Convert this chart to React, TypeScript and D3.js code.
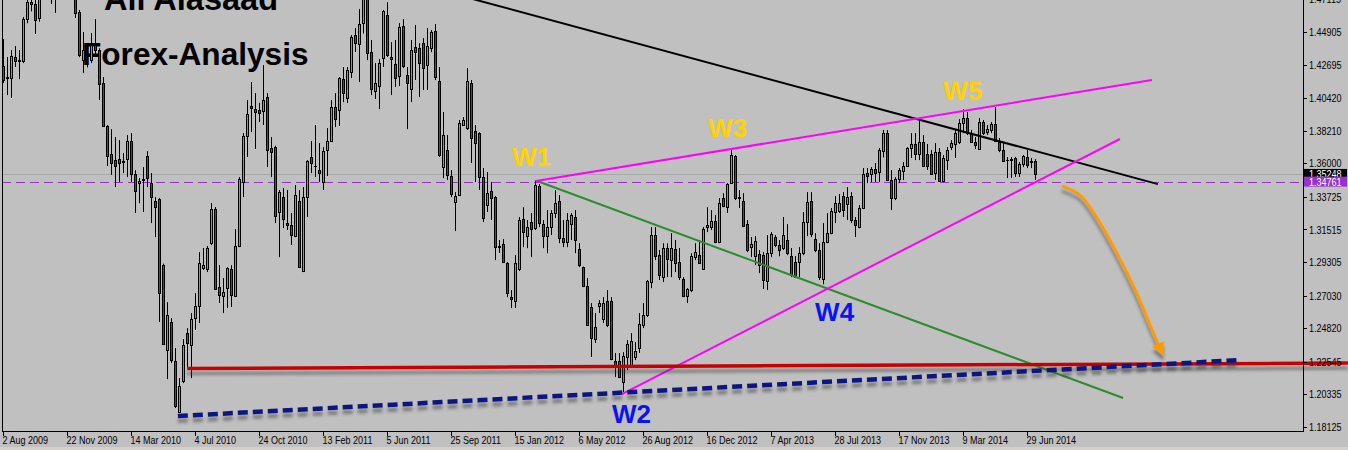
import React from "react";
import * as d3 from "d3";

// ---- Weekly EUR/USD candles, week of 2 Aug 2009 .. week of 13 Jul 2014 ----
const opens = [
1.4260,1.4180,1.4178,1.4321,1.4295,1.4293,1.4578,1.4693,1.4680,1.4585,
1.4720,1.4900,1.5010,1.4730,1.4930,1.4960,1.4900,1.5000,1.5020,1.4626,
1.4300,1.4340,1.4300,1.4402,1.4368,1.4144,1.3853,1.3663,1.3622,1.3629,
1.3615,1.3629,1.3751,1.3527,1.3470,1.3490,1.3649,1.3466,1.3344,1.3358,
1.2910,1.2334,1.2524,1.2259,1.1914,1.2124,1.2449,1.2368,1.2551,1.2632,
1.2890,1.2883,1.3059,1.3290,1.2761,1.2700,1.2754,1.2883,1.2700,1.3039,
1.3473,1.3785,1.3988,1.3968,1.3960,1.3955,1.4049,1.3704,1.3710,1.3270,
1.3371,1.3195,1.3182,1.3107,1.3344,1.2870,1.3371,1.3643,1.3585,1.3555,
1.3473,1.3690,1.3751,1.3982,1.3961,1.4171,1.4043,1.4219,1.4470,1.4409,
1.4551,1.4820,1.4355,1.4090,1.4124,1.4314,1.4605,1.4321,1.4273,1.4192,
1.4531,1.4199,1.4104,1.4388,1.4381,1.4415,1.4266,1.4382,1.4497,1.4158,
1.3575,1.3690,1.3514,1.3337,1.3385,1.3860,1.3839,1.4144,1.3819,1.3805,
1.3507,1.3317,1.3412,1.3371,1.3030,1.3053,1.2924,1.2693,1.2666,1.2883,
1.3222,1.3107,1.3202,1.3161,1.3446,1.3188,1.3107,1.3168,1.3263,1.3344,
1.3093,1.3066,1.3188,1.3236,1.3019,1.2897,1.2768,1.2626,1.2409,1.2632,
1.2544,1.2666,1.2666,1.2259,1.2259,1.2117,1.2287,1.2232,1.2287,1.2348,
1.2504,1.2571,1.2795,1.3114,1.2978,1.2829,1.3026,1.2944,1.3019,1.2931,
1.2816,1.2700,1.2741,1.2964,1.2978,1.2883,1.3168,1.3168,1.3209,1.3066,
1.3365,1.3303,1.3466,1.3649,1.3371,1.3344,1.3188,1.3032,1.2971,1.2985,
1.2978,1.2802,1.2991,1.3100,1.3046,1.3026,1.3080,1.2971,1.2931,1.2931,
1.2991,1.3202,1.3344,1.3087,1.3012,1.2816,1.3066,1.3127,1.3270,1.3277,
1.3378,1.3324,1.3378,1.3216,1.3168,1.3297,1.3534,1.3527,1.3561,1.3541,
1.3683,1.3805,1.3487,1.3364,1.3493,1.3548,1.3582,1.3704,1.3731,1.3663,
1.3744,1.3663,1.3663,1.3534,1.3676,1.3480,1.3622,1.3710,1.3731,1.3744,
1.3873,1.3907,1.3805,1.3744,1.3697,1.3880,1.3812,1.3826,1.3866,1.3744,
1.3690,1.3625,1.3625,1.3636,1.3534,1.3595,1.3643,1.3609,1.3615
];
const highs = [
1.4443,1.4321,1.4368,1.4395,1.4368,1.4592,1.4745,1.4750,1.4720,1.4750,
1.4950,1.5060,1.5060,1.4960,1.5020,1.5000,1.5145,1.5140,1.5040,1.4640,
1.4490,1.4400,1.4483,1.4578,1.4380,1.4185,1.3860,1.3832,1.3778,1.3758,
1.3670,1.3792,1.3805,1.3554,1.3500,1.3575,1.3683,1.3534,1.3371,1.3365,
1.2920,1.2659,1.2551,1.2348,1.2144,1.2409,1.2483,1.2585,1.2720,1.2998,
1.3026,1.3039,1.3331,1.3304,1.2910,1.2822,1.2895,1.2910,1.3154,1.3507,
1.3805,1.4029,1.4151,1.4076,1.4010,1.4266,1.4076,1.3778,1.3720,1.3419,
1.3432,1.3419,1.3263,1.3453,1.3419,1.3439,1.3622,1.3751,1.3860,1.3738,
1.3710,1.3839,1.4029,1.4076,1.4185,1.4253,1.4253,1.4470,1.4517,1.4646,
1.4880,1.4940,1.4436,1.4280,1.4307,1.4639,1.4693,1.4422,1.4436,1.4551,
1.4578,1.4253,1.4436,1.4538,1.4415,1.4449,1.4517,1.4504,1.4544,1.4253,
1.3948,1.3792,1.3555,1.3405,1.3894,1.3914,1.4246,1.4165,1.3860,1.3810,
1.3568,1.3541,1.3473,1.3378,1.3080,1.3087,1.2931,1.2741,1.2978,1.3236,
1.3303,1.3216,1.3263,1.3483,1.3460,1.3216,1.3283,1.3283,1.3419,1.3385,
1.3216,1.3263,1.3263,1.3283,1.3059,1.2900,1.2822,1.2653,1.2585,1.2673,
1.2693,1.2741,1.2693,1.2314,1.2314,1.2320,1.2402,1.2449,1.2388,1.2585,
1.2653,1.2809,1.3168,1.3168,1.3012,1.3059,1.3059,1.3127,1.3080,1.3026,
1.2829,1.2754,1.2991,1.3059,1.3080,1.3168,1.3303,1.3283,1.3249,1.3365,
1.3398,1.3466,1.3703,1.3656,1.3419,1.3398,1.3216,1.3100,1.3107,1.3012,
1.2998,1.3114,1.3134,1.3114,1.3080,1.3236,1.3188,1.3026,1.2971,1.3032,
1.3270,1.3405,1.3405,1.3127,1.3059,1.3195,1.3263,1.3297,1.3378,1.3392,
1.3405,1.3439,1.3405,1.3236,1.3317,1.3568,1.3568,1.3575,1.3602,1.3704,
1.3826,1.3826,1.3555,1.3507,1.3568,1.3609,1.3710,1.3805,1.3805,1.3894,
1.3792,1.3731,1.3690,1.3738,1.3704,1.3656,1.3710,1.3758,1.3832,1.3900,
1.3968,1.3948,1.3826,1.3778,1.3907,1.3894,1.3860,1.3880,1.3982,1.3771,
1.3738,1.3643,1.3643,1.3643,1.3609,1.3656,1.3690,1.3636,1.3629
];
const lows = [
1.4144,1.4063,1.4043,1.4253,1.4171,1.4280,1.4550,1.4630,1.4477,1.4560,
1.4710,1.4860,1.4680,1.4620,1.4830,1.4830,1.4880,1.4960,1.4585,1.4320,
1.4212,1.4250,1.4280,1.4334,1.4029,1.3850,1.3582,1.3521,1.3439,1.3473,
1.3534,1.3507,1.3473,1.3263,1.3330,1.3270,1.3439,1.3195,1.3100,1.2524,
1.2368,1.2137,1.2246,1.1941,1.1907,1.2110,1.2219,1.2144,1.2470,1.2517,
1.2877,1.2863,1.3046,1.2741,1.2653,1.2585,1.2619,1.2626,1.2693,1.3032,
1.3371,1.3643,1.3812,1.3697,1.3880,1.3860,1.3575,1.3507,1.3195,1.2964,
1.3161,1.3148,1.3046,1.3100,1.2890,1.2863,1.3236,1.3534,1.3507,1.3473,
1.3419,1.3514,1.3744,1.3846,1.3853,1.4015,1.4009,1.4178,1.4355,1.4151,
1.4480,1.4300,1.4063,1.4036,1.3968,1.4253,1.4321,1.4063,1.4117,1.4124,
1.4246,1.3832,1.4015,1.4165,1.4049,1.4097,1.4097,1.4354,1.4165,1.3643,
1.3500,1.3487,1.3371,1.3141,1.3378,1.3853,1.3826,1.3602,1.3473,1.3419,
1.3202,1.3270,1.3216,1.2944,1.2992,1.2924,1.2693,1.2619,1.2619,1.2870,
1.3032,1.3025,1.2964,1.3148,1.3168,1.3025,1.2991,1.3114,1.3229,1.3059,
1.3032,1.3032,1.3080,1.2991,1.2897,1.2761,1.2500,1.2287,1.2382,1.2585,
1.2517,1.2490,1.2266,1.2151,1.2144,1.2049,1.2198,1.2219,1.2266,1.2314,
1.2483,1.2558,1.2754,1.2944,1.2809,1.2795,1.2829,1.2829,1.2863,1.2809,
1.2693,1.2653,1.2727,1.2944,1.2920,1.2877,1.3134,1.3148,1.3059,1.3059,
1.3303,1.3263,1.3460,1.3351,1.3297,1.3168,1.2998,1.2964,1.2910,1.2856,
1.2748,1.2741,1.2964,1.3032,1.2970,1.3012,1.2978,1.2829,1.2826,1.2829,
1.2978,1.3107,1.3100,1.2998,1.2809,1.2780,1.3059,1.3120,1.3195,1.3263,
1.3236,1.3216,1.3195,1.3100,1.3160,1.3290,1.3466,1.3473,1.3473,1.3473,
1.3640,1.3480,1.3283,1.3351,1.3466,1.3487,1.3575,1.3636,1.3622,1.3622,
1.3575,1.3555,1.3521,1.3487,1.3473,1.3473,1.3555,1.3690,1.3636,1.3731,
1.3805,1.3792,1.3738,1.3697,1.3690,1.3792,1.3792,1.3805,1.3744,1.3676,
1.3609,1.3500,1.3500,1.3507,1.3507,1.3575,1.3568,1.3568,1.3487
];
const closes = [
1.4165,1.4185,1.4327,1.4293,1.4300,1.4578,1.4693,1.4680,1.4571,1.4720,
1.4900,1.5010,1.4730,1.4930,1.4960,1.4900,1.5000,1.5010,1.4619,1.4334,
1.4368,1.4350,1.4402,1.4368,1.4138,1.3853,1.3649,1.3602,1.3582,1.3602,
1.3612,1.3751,1.3527,1.3412,1.3480,1.3494,1.3500,1.3371,1.3303,1.2720,
1.2375,1.2571,1.2266,1.1954,1.2090,1.2368,1.2382,1.2544,1.2632,1.2924,
1.2910,1.3026,1.3290,1.2748,1.2707,1.2727,1.2890,1.2707,1.3039,1.3493,
1.3785,1.3934,1.3975,1.3948,1.3940,1.4029,1.3690,1.3676,1.3243,1.3405,
1.3222,1.3182,1.3114,1.3385,1.2897,1.3371,1.3615,1.3602,1.3582,1.3534,
1.3683,1.3751,1.3982,1.3900,1.4178,1.4076,1.4232,1.4456,1.4416,1.4544,
1.4810,1.4348,1.4104,1.4144,1.4280,1.4632,1.4334,1.4307,1.4178,1.4524,
1.4260,1.4144,1.4368,1.4354,1.4280,1.4246,1.4395,1.4490,1.4185,1.3656,
1.3792,1.3521,1.3392,1.3378,1.3873,1.3894,1.4158,1.3771,1.3738,1.3507,
1.3229,1.3398,1.3364,1.3032,1.3039,1.2931,1.2720,1.2680,1.2924,1.3216,
1.3134,1.3168,1.3154,1.3453,1.3195,1.3107,1.3168,1.3263,1.3331,1.3093,
1.3066,1.3216,1.3249,1.3080,1.2910,1.2768,1.2504,1.2415,1.2490,1.2653,
1.2653,1.2504,1.2273,1.2225,1.2151,1.2293,1.2375,1.2395,1.2327,1.2510,
1.2571,1.2802,1.3114,1.2971,1.2843,1.3026,1.2951,1.3026,1.2924,1.2829,
1.2700,1.2748,1.2971,1.2998,1.2924,1.3154,1.3182,1.3209,1.3066,1.3331,
1.3310,1.3460,1.3656,1.3365,1.3364,1.3175,1.3012,1.3053,1.3073,1.2910,
1.2809,1.2991,1.3120,1.3046,1.3010,1.3114,1.2991,1.2843,1.2829,1.2991,
1.3202,1.3337,1.3120,1.3012,1.2829,1.3066,1.3127,1.3277,1.3331,1.3331,
1.3283,1.3371,1.3216,1.3182,1.3297,1.3527,1.3514,1.3561,1.3534,1.3690,
1.3805,1.3487,1.3364,1.3493,1.3555,1.3582,1.3704,1.3731,1.3663,1.3744,
1.3582,1.3582,1.3527,1.3676,1.3480,1.3636,1.3690,1.3738,1.3805,1.3873,
1.3907,1.3805,1.3744,1.3724,1.3880,1.3805,1.3832,1.3866,1.3751,1.3690,
1.3615,1.3622,1.3632,1.3534,1.3595,1.3649,1.3588,1.3615,1.3525
];

// time axis labels, one every 16 weekly bars
const dateLabels = [
  "2 Aug 2009","22 Nov 2009","14 Mar 2010","4 Jul 2010","24 Oct 2010","13 Feb 2011",
  "5 Jun 2011","25 Sep 2011","15 Jan 2012","6 May 2012","26 Aug 2012","16 Dec 2012",
  "7 Apr 2013","28 Jul 2013","17 Nov 2013","9 Mar 2014","29 Jun 2014"
];
const priceTicks = [1.18125,1.20335,1.22545,1.24820,1.27030,1.29305,1.31515,1.33725,1.36000,1.38210,1.40420,1.42695,1.44905,1.47115];
const bidPrice = 1.35248;
const levelPrice = 1.34761;

// drawn objects, in (bar index, price)
const blackLine = [[100, 1.4841],[288.6, 1.3459]];
const pinkUpper = [[133.1, 1.3480],[287.1, 1.4165]];
const pinkLower = [[154.6, 1.2036],[279.1, 1.3765]];
const greenLine = [[133.4, 1.3480],[279.9, 1.2009]];
const redLine = [[45.9, 1.2209],[336.1, 1.2246]];
const navyLine = [[43.6, 1.1887],[309.1, 1.2266]];
const orangeArrow = [[264.6,1.3446],[269.1,1.3385],[272.9,1.3249],[277.9,1.3012],[282.9,1.2741],[286.6,1.2504],[288.9,1.2360]];
const waveLabels = [
  { t: "W1", i: 127.1, p: 1.3582, c: "#FFD200" },
  { t: "W3", i: 176.1, p: 1.3778, c: "#FFD200" },
  { t: "W5", i: 234.9, p: 1.4029, c: "#FFD200" },
  { t: "W4", i: 202.9, p: 1.2530, c: "#0A14F0" },
  { t: "W2", i: 152.1, p: 1.1841, c: "#0A14F0" },
];

const W = 1348, H = 450;
const AX = 1303, BOTTOM = 431;
const AXIS_FONT = "'Liberation Sans',Arial,sans-serif";
const SQ = 0.82; // horizontal squeeze to mimic the narrow terminal font

function AxisText({ x, y, fill, children }: { x: number; y: number; fill: string; children: React.ReactNode }) {
  return (
    <text transform={`translate(${x},${y}) scale(${SQ},1)`} fontFamily={AXIS_FONT} fontSize={11} fill={fill}>{children}</text>
  );
}

export default function App() {
  const n = opens.length;
  const x = d3.scaleLinear().domain([0, n - 1]).range([3.5, 3.5 + 4 * (n - 1)]);
  const y = d3.scaleLinear().domain([1.18125, 1.44905]).range([427, 32]);
  const ln = d3.line<number[]>().x(d => x(d[0])).y(d => y(d[1]));
  const curve = d3.line<number[]>().x(d => x(d[0])).y(d => y(d[1])).curve(d3.curveCatmullRom.alpha(0.5));

  const candles = d3.range(n).map(i => {
    const o = opens[i], c = closes[i], h = highs[i], l = lows[i];
    const cx = x(i);
    const yt = Math.round(y(Math.max(o, c)));
    const yb = Math.round(y(Math.min(o, c)));
    const bull = c >= o;
    return (
      <g key={i}>
        <line x1={cx} x2={cx} y1={y(h)} y2={y(l)} stroke="#000" strokeWidth={1} />
        {yb - yt >= 1 ? (
          <rect x={cx - 1} y={yt + 0.5} width={2} height={yb - yt} fill={bull ? "#22DD22" : "#DD1111"} stroke="#000" strokeWidth={1} shapeRendering="crispEdges" />
        ) : (
          <line x1={cx - 1.5} x2={cx + 1.5} y1={yt + 0.5} y2={yt + 0.5} stroke="#000" strokeWidth={1} />
        )}
      </g>
    );
  });

  return (
    <>
      <style>{`body{margin:0;background:#C0C0C0}`}</style>
      <svg width={W} height={H} style={{ display: "block", background: "#C0C0C0" }}>
        <defs>
          <filter id="sh" filterUnits="userSpaceOnUse" x="0" y="0" width={W} height={H}>
            <feDropShadow dx="0" dy="5" stdDeviation="1.6" floodColor="#303030" floodOpacity="0.45" />
          </filter>
          <marker id="ah" viewBox="0 0 10 10" refX="2" refY="5" markerWidth="4.4" markerHeight="4.4" orient="auto" markerUnits="strokeWidth">
            <path d="M0,0 L10,5 L0,10 z" fill="#FF9A00" />
          </marker>
          <clipPath id="plot"><rect x={2} y={0} width={AX - 2} height={BOTTOM} /></clipPath>
        </defs>
        <rect x={0} y={0} width={W} height={H} fill="#C0C0C0" />
        <rect x={0} y={447} width={W} height={3} fill="#D4D0C8" />

        {/* title */}
        <text x={104} y={10} fontFamily="'Liberation Sans',Arial,sans-serif" fontWeight="bold" fontSize={32.5} fill="#000">Ali Alasaad</text>
        <text x={82} y={65} fontFamily="'Liberation Sans',Arial,sans-serif" fontWeight="bold" fontSize={31.6} fill="#000">Forex-Analysis</text>

        <g clipPath="url(#plot)">
          <line x1={2} x2={AX} y1={Math.round(y(bidPrice)) + 0.5} y2={Math.round(y(bidPrice)) + 0.5} stroke="#A8A8A8" strokeWidth={1} />
          <line x1={2} x2={AX} y1={Math.round(y(levelPrice)) + 0.5} y2={Math.round(y(levelPrice)) + 0.5} stroke="#9932CC" strokeWidth={1} strokeDasharray="9,5" />
          {candles}
          <path d={ln(blackLine) || ""} stroke="#000" strokeWidth={2} fill="none" />
          <path d={ln(greenLine) || ""} stroke="#2E8B2E" strokeWidth={2} fill="none" />
          <path d={ln(pinkUpper) || ""} stroke="#FF00FF" strokeWidth={2} fill="none" />
          <path d={ln(pinkLower) || ""} stroke="#FF00FF" strokeWidth={2} fill="none" />
        </g>
        <path d={ln(redLine) || ""} stroke="#C80000" strokeWidth={3.5} fill="none" filter="url(#sh)" />
        <path d={ln(navyLine) || ""} stroke="#0E1680" strokeWidth={4.5} fill="none" strokeDasharray="10,5" filter="url(#sh)" />
        <path d={curve(orangeArrow) || ""} stroke="#FF9A00" strokeWidth={3} fill="none" markerEnd="url(#ah)" filter="url(#sh)" />

        {waveLabels.map(w => (
          <text key={w.t} x={x(w.i)} y={y(w.p)} fontFamily="'Liberation Sans',Arial,sans-serif" fontWeight="bold" fontSize={26} fill={w.c}>{w.t}</text>
        ))}

        {/* frame */}
        <line x1={2.5} x2={2.5} y1={0} y2={BOTTOM} stroke="#000" />
        <line x1={2} x2={AX + 0.5} y1={BOTTOM + 0.5} y2={BOTTOM + 0.5} stroke="#000" />
        <line x1={AX + 0.5} x2={AX + 0.5} y1={0} y2={BOTTOM + 1} stroke="#000" />

        {/* price axis */}
        {priceTicks.map(p => (
          <g key={p}>
            <line x1={AX} x2={AX + 4} y1={Math.round(y(p)) + 0.5} y2={Math.round(y(p)) + 0.5} stroke="#000" />
            <AxisText x={1309} y={y(p) + 4} fill="#000">{p.toFixed(5)}</AxisText>
          </g>
        ))}
        <rect x={AX + 1} y={y(bidPrice) - 5.5} width={W - AX - 2} height={11} fill="#000" />
        <AxisText x={1309} y={y(bidPrice) + 4} fill="#fff">{bidPrice.toFixed(5)}</AxisText>
        <rect x={AX + 1} y={y(levelPrice) - 5} width={W - AX - 2} height={10} fill="#9932CC" />
        <AxisText x={1309} y={y(levelPrice) + 4} fill="#fff">{levelPrice.toFixed(5)}</AxisText>

        {/* time axis */}
        {dateLabels.map((t, k) => (
          <g key={t}>
            <line x1={x(k * 16)} x2={x(k * 16)} y1={BOTTOM} y2={BOTTOM + 5} stroke="#000" />
            <AxisText x={x(k * 16) - 1} y={444} fill="#000">{t}</AxisText>
          </g>
        ))}
      </svg>
    </>
  );
}
